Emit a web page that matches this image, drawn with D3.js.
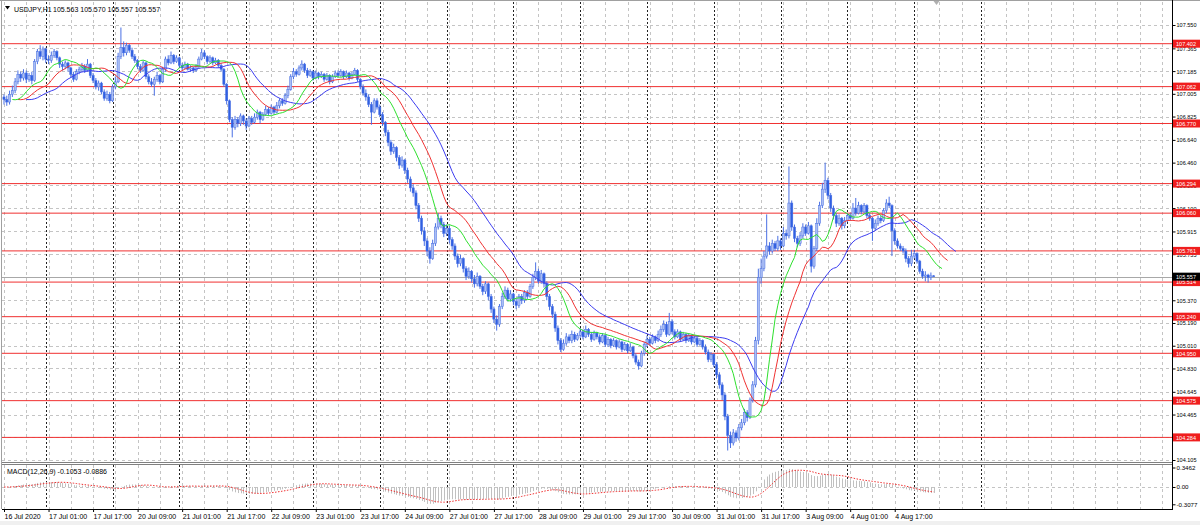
<!DOCTYPE html>
<html><head><meta charset="utf-8">
<script src="https://cdn.jsdelivr.net/npm/d3@7"></script>
<style>html,body{margin:0;padding:0;background:#fff;}svg{display:block;font-family:"Liberation Sans",Arial,sans-serif;}</style>
</head><body><svg id="c" width="1200" height="525"></svg>
<script>
// ---------------- DATA ----------------
const symbolLabel = "USDJPY,H1";
const headerValues = "105.563 105.570 105.557 105.557";
const macdLabel = "MACD(12,26,9) -0.1053 -0.0886";
const firstOpen = 106.98;
const closes = [
106.96,106.94,107.00,107.03,107.10,107.16,107.13,107.17,107.12,107.15,
107.11,107.26,107.34,107.30,107.36,107.28,107.27,107.31,107.34,107.29,
107.24,107.22,107.25,107.21,107.16,107.12,107.18,107.20,107.22,107.19,
107.24,107.15,107.11,107.06,107.09,107.02,106.97,107.00,106.95,107.06,
107.10,107.30,107.37,107.33,107.39,107.35,107.30,107.27,107.22,107.19,
107.25,107.14,107.10,107.08,107.12,107.15,107.10,107.20,107.28,107.25,
107.31,107.26,107.29,107.23,107.21,107.24,107.20,107.21,107.19,107.22,
107.28,107.33,107.30,107.26,107.29,107.25,107.27,107.23,107.20,107.08,
106.95,106.80,106.74,106.80,106.77,106.83,106.79,106.75,106.81,106.78,
106.82,106.86,106.80,106.84,106.88,106.85,106.90,106.86,106.91,106.95,
106.93,106.99,107.04,107.14,107.18,107.16,107.21,107.24,107.19,107.15,
107.18,107.13,107.17,107.14,107.16,107.12,107.15,107.10,107.14,107.17,
107.15,107.18,107.14,107.17,107.13,107.16,107.19,107.12,107.06,107.01,
106.98,106.92,106.86,106.95,106.90,106.84,106.78,106.70,106.62,106.55,
106.58,106.50,106.44,106.48,106.40,106.33,106.26,106.22,106.12,106.02,
105.92,105.84,105.76,105.70,105.82,105.95,106.02,105.97,105.90,105.94,
105.85,105.80,105.72,105.66,105.70,105.62,105.56,105.60,105.54,105.50,
105.56,105.48,105.44,105.50,105.40,105.30,105.22,105.18,105.32,105.40,
105.45,105.38,105.42,105.36,105.33,105.40,105.37,105.43,105.40,105.48,
105.55,105.60,105.52,105.58,105.50,105.40,105.32,105.26,105.15,105.05,
104.98,105.03,105.08,105.05,105.10,105.06,105.09,105.12,105.08,105.14,
105.10,105.06,105.11,105.08,105.04,105.09,105.02,105.06,105.01,105.05,
105.00,105.04,104.98,105.02,104.97,105.00,104.93,104.88,104.85,104.95,
105.02,105.06,105.03,105.08,105.05,105.10,105.14,105.18,105.10,105.20,
105.12,105.08,105.12,105.06,105.10,105.05,105.09,105.04,105.07,105.02,
105.05,105.00,104.96,104.90,104.94,104.86,104.78,104.70,104.62,104.45,
104.30,104.24,104.32,104.28,104.36,104.40,104.48,104.44,104.58,104.70,
105.05,105.55,105.62,105.72,105.80,105.76,105.82,105.78,105.84,105.80,
105.90,105.88,106.14,105.95,105.86,105.82,105.88,105.95,105.90,105.96,
105.64,105.78,105.98,106.12,106.25,106.32,106.20,106.10,106.04,105.98,
106.02,105.96,106.00,106.04,106.02,106.10,106.06,106.12,106.07,106.12,
106.04,106.02,105.94,105.98,106.02,106.00,106.08,106.14,106.12,105.92,
105.84,105.80,105.78,105.76,105.70,105.66,105.72,105.74,105.68,105.60,
105.56,105.57,105.55,105.563,105.557];
const highs = [
107.00,106.99,107.03,107.07,107.13,107.19,107.18,107.20,107.19,107.17,
107.18,107.28,107.36,107.39,107.38,107.37,107.31,107.34,107.36,107.35,
107.30,107.26,107.27,107.26,107.22,107.18,107.20,107.22,107.25,107.24,
107.28,107.25,107.17,107.13,107.11,107.10,107.04,107.03,107.02,107.08,
107.14,107.33,107.53,107.42,107.41,107.40,107.37,107.32,107.28,107.24,
107.27,107.26,107.16,107.13,107.14,107.18,107.16,107.22,107.30,107.31,
107.34,107.32,107.31,107.30,107.25,107.26,107.25,107.23,107.22,107.24,
107.30,107.36,107.35,107.31,107.31,107.30,107.29,107.28,107.25,107.21,
107.09,106.96,106.82,106.83,106.82,106.85,106.84,106.81,106.83,106.83,
106.85,106.88,106.87,106.86,106.91,106.90,106.92,106.91,106.94,106.97,
106.97,107.01,107.07,107.16,107.21,107.20,107.23,107.27,107.25,107.21,
107.20,107.19,107.19,107.18,107.18,107.17,107.17,107.16,107.16,107.19,
107.19,107.20,107.19,107.19,107.18,107.18,107.21,107.20,107.13,107.08,
107.04,107.00,106.94,106.97,106.97,106.92,106.86,106.79,106.72,106.64,
106.61,106.59,106.52,106.51,106.49,106.42,106.35,106.29,106.24,106.14,
106.04,105.95,105.86,105.79,105.85,105.98,106.06,106.04,105.99,105.97,
105.96,105.87,105.82,105.74,105.73,105.71,105.64,105.63,105.61,105.57,
105.59,105.57,105.50,105.52,105.51,105.42,105.32,105.25,105.34,105.43,
105.48,105.47,105.45,105.43,105.38,105.42,105.42,105.45,105.45,105.50,
105.58,105.67,105.62,105.61,105.59,105.52,105.42,105.34,105.28,105.17,
105.07,105.06,105.11,105.10,105.13,105.12,105.11,105.15,105.14,105.17,
105.15,105.12,105.13,105.12,105.10,105.11,105.10,105.08,105.07,105.07,
105.06,105.06,105.05,105.04,105.03,105.03,105.01,104.95,104.90,104.97,
105.04,105.09,105.08,105.10,105.09,105.13,105.17,105.21,105.20,105.27,
105.22,105.14,105.14,105.13,105.12,105.11,105.11,105.10,105.09,105.08,
105.07,105.06,105.02,104.98,104.96,104.95,104.88,104.80,104.72,104.64,
104.47,104.33,104.35,104.34,104.39,104.43,104.51,104.50,104.60,104.73,
105.08,105.62,105.70,105.76,106.05,105.83,105.85,105.84,105.88,105.86,
105.95,105.93,106.43,106.16,105.97,105.88,105.91,105.98,105.97,105.99,
105.97,105.80,106.02,106.15,106.30,106.46,106.34,106.22,106.12,106.06,
106.05,106.03,106.03,106.06,106.06,106.14,106.18,106.15,106.13,106.14,
106.13,106.06,106.03,106.01,106.04,106.04,106.10,106.17,106.19,106.13,
105.94,105.86,105.82,105.80,105.78,105.72,105.77,105.77,105.75,105.69,
105.62,105.60,105.58,105.59,105.570];
const lows = [
106.92,106.91,106.92,106.98,107.01,107.08,107.10,107.11,107.09,107.10,
107.08,107.10,107.24,107.28,107.27,107.25,107.24,107.25,107.29,107.27,
107.21,107.19,107.20,107.18,107.13,107.10,107.11,107.16,107.18,107.17,
107.18,107.13,107.09,107.04,107.03,107.00,106.95,106.95,106.93,106.94,
107.04,107.09,107.28,107.30,107.31,107.33,107.28,107.25,107.20,107.17,
107.18,107.12,107.08,107.06,106.99,107.10,107.08,107.09,107.18,107.23,
107.24,107.24,107.25,107.21,107.19,107.20,107.19,107.18,107.17,107.18,
107.21,107.27,107.28,107.24,107.25,107.23,107.24,107.21,107.18,107.06,
106.92,106.78,106.66,106.72,106.74,106.75,106.76,106.72,106.74,106.76,
106.77,106.80,106.77,106.79,106.83,106.83,106.84,106.84,106.85,106.89,
106.91,106.92,106.97,107.03,107.12,107.14,107.15,107.19,107.17,107.13,
107.14,107.11,107.12,107.12,107.13,107.10,107.11,107.08,107.09,107.13,
107.13,107.14,107.12,107.13,107.11,107.12,107.15,107.10,107.04,106.99,
106.95,106.90,106.76,106.85,106.88,106.82,106.75,106.67,106.59,106.52,
106.53,106.47,106.41,106.42,106.37,106.30,106.23,106.19,106.09,105.99,
105.89,105.80,105.72,105.66,105.69,105.80,105.93,105.94,105.87,105.88,
105.82,105.77,105.69,105.63,105.64,105.59,105.53,105.54,105.51,105.47,
105.48,105.46,105.41,105.42,105.37,105.27,105.19,105.13,105.16,105.30,
105.38,105.36,105.36,105.33,105.30,105.31,105.34,105.35,105.38,105.39,
105.46,105.53,105.50,105.50,105.47,105.37,105.29,105.23,105.12,105.02,
104.96,104.97,105.01,105.03,105.03,105.04,105.05,105.07,105.06,105.07,
105.08,105.04,105.05,105.06,105.02,105.03,105.00,105.00,104.99,105.00,
104.98,104.99,104.96,104.97,104.95,104.96,104.91,104.86,104.82,104.84,
104.93,105.00,105.01,105.02,105.03,105.04,105.08,105.12,105.08,105.09,
105.10,105.06,105.07,105.04,105.05,105.03,105.04,105.02,105.03,105.00,
105.01,104.98,104.94,104.88,104.88,104.84,104.75,104.67,104.58,104.42,
104.18,104.20,104.22,104.25,104.26,104.34,104.38,104.41,104.43,104.56,
104.68,105.02,105.50,105.60,105.70,105.73,105.74,105.76,105.76,105.77,
105.79,105.85,105.86,105.92,105.83,105.79,105.80,105.86,105.88,105.89,
105.59,105.62,105.76,105.96,106.10,106.22,106.17,106.07,106.01,105.95,
105.96,105.93,105.94,105.99,106.00,106.01,106.04,106.05,106.05,106.06,
106.02,106.00,105.84,105.92,105.96,105.98,105.99,106.06,106.10,105.72,
105.81,105.78,105.76,105.74,105.67,105.63,105.64,105.70,105.66,105.58,
105.54,105.52,105.51,105.53,105.557];
const priceTicks = ["107.550","107.365","107.185","107.005","106.825","106.640","106.460","106.280","106.100","105.915","105.735","105.555","105.370","105.190","105.010","104.830","104.645","104.465","104.285","104.105"];
const levelLines = [107.402,107.062,106.770,106.294,106.060,105.761,105.514,105.240,104.950,104.575,104.284];
const lastPrice = 105.557;
const macdTicks = ["0.3462","0.00","-0.3077"];
const timeLabels = ["16 Jul 2020","17 Jul 01:00","17 Jul 17:00","20 Jul 09:00","21 Jul 01:00","21 Jul 17:00","22 Jul 09:00","23 Jul 01:00","23 Jul 17:00","24 Jul 09:00","27 Jul 01:00","27 Jul 17:00","28 Jul 09:00","29 Jul 01:00","29 Jul 17:00","30 Jul 09:00","31 Jul 01:00","31 Jul 17:00","3 Aug 09:00","4 Aug 01:00","4 Aug 17:00"];
const barsPerLabel = 16;
const firstDayStartBar = 15;   // 17 Jul 00:00
const daySeparatorCount = 15;  // 17 Jul .. 6 Aug

// ---------------- LAYOUT ----------------
const W = 1200, H = 525;
const plotL = 2, plotR = 1172, mainT = 2, mainB = 462, macdT = 465, macdB = 509;
const N = closes.length;
const opens = [firstOpen].concat(closes.slice(0, -1));
const FS = 6.2;

const svg = d3.select("#c");
svg.append("rect").attr("width", W).attr("height", H).attr("fill", "#fff");
svg.append("rect").attr("x", 0).attr("y", 521).attr("width", W).attr("height", 4).attr("fill", "#f0f0f0");

const x = d3.scaleLinear().domain([0, 100]).range([4, 4 + 278.35]);
const y = d3.scaleLinear().domain([104.105, 107.55]).range([460, 25]);
const ym = d3.scaleLinear().domain([+macdTicks[2], +macdTicks[0]]).range([504.3, 467.5]);

const defs = svg.append("defs");
defs.append("clipPath").attr("id", "cm").append("rect").attr("x", plotL).attr("y", mainT).attr("width", plotR - plotL).attr("height", mainB - mainT);
defs.append("clipPath").attr("id", "cd").append("rect").attr("x", plotL).attr("y", macdT).attr("width", plotR - plotL).attr("height", macdB - macdT);

const grid = svg.append("g");
for (let i = 0; x(i) < plotR; i += 8) {
  [[mainT, mainB], [macdT, macdB]].forEach(([a, b]) => {
    grid.append("line").attr("x1", Math.round(x(i)) + 0.5).attr("x2", Math.round(x(i)) + 0.5).attr("y1", a).attr("y2", b)
      .attr("stroke", "#c4c4c4").attr("stroke-dasharray", "3,3");
  });
}
priceTicks.forEach(t => {
  const yy = Math.round(y(+t)) + 0.5;
  grid.append("line").attr("x1", plotL).attr("x2", plotR).attr("y1", yy).attr("y2", yy)
    .attr("stroke", "#c4c4c4").attr("stroke-dasharray", "3,3");
});
grid.append("line").attr("x1", plotL).attr("x2", plotR).attr("y1", Math.round(ym(0)) + 0.5).attr("y2", Math.round(ym(0)) + 0.5)
  .attr("stroke", "#c4c4c4").attr("stroke-dasharray", "3,3");
for (let k = 0; k < daySeparatorCount; k++) {
  const xi = Math.round(x(firstDayStartBar + 24 * k)) + 0.5;
  [[mainT, mainB], [macdT, macdB]].forEach(([a, b]) => {
    grid.append("line").attr("x1", xi).attr("x2", xi).attr("y1", a).attr("y2", b)
      .attr("stroke", "#222").attr("stroke-dasharray", "2,2");
  });
}

const main = svg.append("g").attr("clip-path", "url(#cm)");
levelLines.forEach(v => {
  main.append("line").attr("x1", plotL).attr("x2", plotR).attr("y1", y(v)).attr("y2", y(v))
    .attr("stroke", "#f03030").attr("stroke-width", 1);
});
main.append("line").attr("x1", plotL).attr("x2", plotR).attr("y1", Math.round(y(lastPrice)) + 0.5).attr("y2", Math.round(y(lastPrice)) + 0.5)
  .attr("stroke", "#a8a8a8");

const cand = main.append("g");
for (let i = 0; i < N; i++) {
  const o = opens[i], c = closes[i], cx = x(i);
  cand.append("line").attr("x1", cx).attr("x2", cx).attr("y1", y(highs[i])).attr("y2", y(lows[i]))
    .attr("stroke", "#4a70e4").attr("stroke-width", 1);
  const top = y(Math.max(o, c)), bot = y(Math.min(o, c));
  const bull = c >= o;
  cand.append("rect").attr("x", cx - 1.1).attr("width", 2.2).attr("y", top).attr("height", Math.max(0.8, bot - top))
    .attr("fill", bull ? "#aabef3" : "#3060e2").attr("stroke", "#4a70e4").attr("stroke-width", 0.5);
}

const median = highs.map((h, i) => (h + lows[i]) / 2);
function smma(arr, n) { const out = []; let s = arr[0]; arr.forEach((v, i) => { s = i === 0 ? v : (s * (n - 1) + v) / n; out.push(s); }); return out; }
const lineGen = d3.line().x(d => x(d[0])).y(d => y(d[1]));
[[13, 8, "#3c3cf0"], [8, 5, "#f03232"], [5, 3, "#2ee02e"]].forEach(([n, sh, col]) => {
  const s = smma(median, n).map((v, i) => [i + sh, v]);
  main.append("path").attr("d", lineGen(s)).attr("fill", "none").attr("stroke", col).attr("stroke-width", 1);
});

function ema(arr, n) { const k = 2 / (n + 1); const out = []; let e = arr[0]; arr.forEach((v, i) => { e = i === 0 ? v : v * k + e * (1 - k); out.push(e); }); return out; }
const e12 = ema(closes, 12), e26 = ema(closes, 26);
const macd = e12.map((v, i) => v - e26[i]);
const signal = macd.map((v, i) => d3.mean(macd.slice(Math.max(0, i - 8), i + 1)));
const mg = svg.append("g").attr("clip-path", "url(#cd)");
macd.forEach((v, i) => {
  const xx = Math.round(x(i)) + 0.5;
  mg.append("line").attr("x1", xx).attr("x2", xx).attr("y1", ym(0)).attr("y2", ym(v)).attr("stroke", "#c0c0c0").attr("stroke-width", 1);
});
mg.append("path").attr("d", d3.line().x((d, i) => x(i)).y(d => ym(d))(signal)).attr("fill", "none")
  .attr("stroke", "#f03030").attr("stroke-width", 1).attr("stroke-dasharray", "1.5,1.5");

svg.append("line").attr("x1", 0).attr("x2", W).attr("y1", 0.5).attr("y2", 0.5).attr("stroke", "#a0a0a0");
svg.append("line").attr("x1", 1.5).attr("x2", 1.5).attr("y1", 0).attr("y2", macdB).attr("stroke", "#a0a0a0");
svg.append("line").attr("x1", plotL).attr("x2", plotR).attr("y1", 462.5).attr("y2", 462.5).attr("stroke", "#808080");
svg.append("line").attr("x1", plotL).attr("x2", plotR).attr("y1", 464.5).attr("y2", 464.5).attr("stroke", "#808080");
svg.append("line").attr("x1", plotR + 0.5).attr("x2", plotR + 0.5).attr("y1", 0).attr("y2", macdB).attr("stroke", "#000");
svg.append("line").attr("x1", plotL).attr("x2", plotR + 1).attr("y1", macdB + 0.5).attr("y2", macdB + 0.5).attr("stroke", "#000");

const pa = svg.append("g").attr("transform", `translate(${plotR + 0.5},0)`)
  .call(d3.axisRight(y).tickValues(priceTicks.map(Number)).tickFormat(d3.format(".3f")).tickSize(3).tickPadding(1));
pa.select(".domain").remove();
pa.selectAll("text").attr("font-size", FS).attr("fill", "#000").attr("textLength", 20).attr("lengthAdjust", "spacingAndGlyphs");
pa.selectAll("line").attr("stroke", "#000");

levelLines.forEach(v => {
  const yy = y(v);
  svg.append("rect").attr("x", plotR + 1).attr("y", yy - 4).attr("width", 27).attr("height", 8).attr("fill", "#f01e1e");
  svg.append("text").attr("x", plotR + 4).attr("y", yy + 2.3).attr("font-size", FS).attr("fill", "#fff")
    .attr("textLength", 20).attr("lengthAdjust", "spacingAndGlyphs").text(d3.format(".3f")(v));
});
svg.append("rect").attr("x", plotR + 1).attr("y", y(lastPrice) - 4).attr("width", 27).attr("height", 8).attr("fill", "#000");
svg.append("text").attr("x", plotR + 4).attr("y", y(lastPrice) + 2.3).attr("font-size", FS).attr("fill", "#fff")
  .attr("textLength", 20).attr("lengthAdjust", "spacingAndGlyphs").text(d3.format(".3f")(lastPrice));

const ma = svg.append("g").attr("transform", `translate(${plotR + 0.5},0)`)
  .call(d3.axisRight(ym).tickValues(macdTicks.map(Number)).tickFormat((d, k) => macdTicks[k]).tickSize(3).tickPadding(1));
ma.select(".domain").remove();
ma.selectAll("text").attr("font-size", FS).attr("fill", "#000");
ma.selectAll("line").attr("stroke", "#000");

const tIdx = timeLabels.map((d, k) => k * barsPerLabel);
const ta = svg.append("g").attr("transform", `translate(0,${macdB})`)
  .call(d3.axisBottom(x).tickValues(tIdx).tickFormat((d, k) => timeLabels[k]).tickSize(3).tickPadding(2));
ta.select(".domain").remove();
ta.selectAll("line").attr("stroke", "#000");
ta.selectAll("text").attr("font-size", 7).attr("fill", "#000").attr("text-anchor", "start");

svg.append("path").attr("d", "M5,6 L10,6 L7.5,9.5 Z").attr("fill", "#000");
svg.append("text").attr("x", 14).attr("y", 11.5).attr("font-size", 7).attr("fill", "#000").text(symbolLabel);
svg.append("text").attr("x", 53).attr("y", 11.5).attr("font-size", 7).attr("fill", "#000").text(headerValues);
svg.append("text").attr("x", 7).attr("y", 473.5).attr("font-size", 7).attr("fill", "#000").text(macdLabel);
svg.append("path").attr("d", `M${x(N) - 3},1 L${x(N) + 3},1 L${x(N)},5 Z`).attr("fill", "#b0b0b0");
</script></body></html>
